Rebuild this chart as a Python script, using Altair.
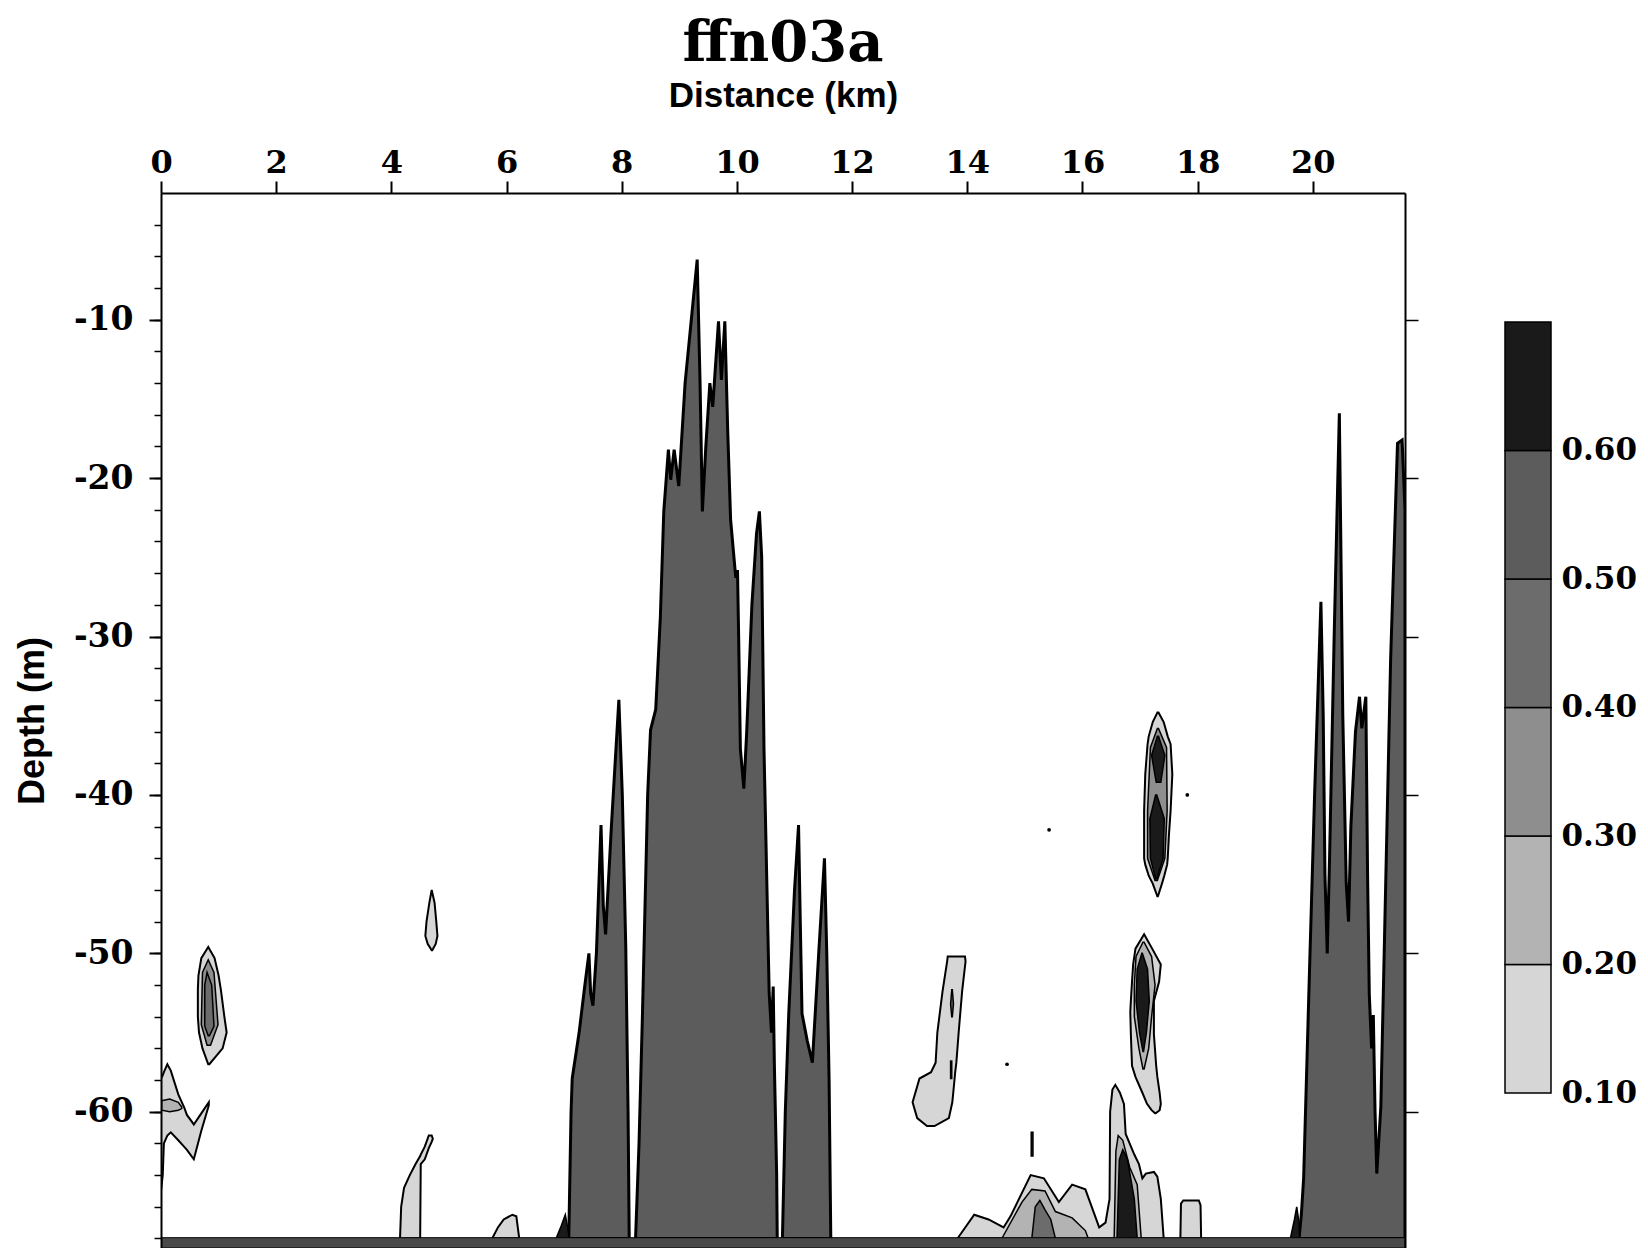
import altair as alt
import pandas as pd

# ------------------------------------------------------------------ data
X_DOMAIN = [0.0, 21.6]
Y_DOMAIN = [-68.6, -2.0]
FLOOR = -68.0

LEVELS = ["0.10", "0.20", "0.30", "0.40", "0.50", "0.60"]
LEVEL_COLORS = ["#d6d6d6", "#b3b3b3", "#8e8e8e", "#6c6c6c", "#5c5c5c", "#1a1a1a"]
CBAR_LO = [0.1, 0.2, 0.3, 0.4, 0.5, 0.6]
CBAR_HI = [0.2, 0.3, 0.4, 0.5, 0.6, 0.7]

X_TICKS = [0, 2, 4, 6, 8, 10, 12, 14, 16, 18, 20]
Y_TICKS = [-10, -20, -30, -40, -50, -60]
Y_MINOR = [-68, -66, -64, -62, -60, -58, -56, -54, -52, -50, -48, -46, -44, -42,
           -40, -38, -36, -34, -32, -30, -28, -26, -24, -22, -20, -18, -16, -14,
           -12, -10, -8, -6, -4]

# --- high-value spikes rising from the floor (distance km, upper edge depth m)
A_km = [7.08, 7.12, 7.14, 7.26, 7.36, 7.43, 7.46, 7.50, 7.56, 7.64, 7.68, 7.72,
        7.82, 7.95, 8.01, 8.07, 8.11, 8.13]
A_top = [-68.0, -60.0, -57.9, -55.0, -52.0, -50.0, -52.5, -53.3, -50.0, -41.9,
         -47.0, -48.8, -42.0, -34.0, -40.0, -49.6, -60.0, -68.0]

B_km = [8.24, 8.30, 8.36, 8.45, 8.50, 8.59, 8.67, 8.73, 8.81, 8.85, 8.91, 8.99,
        9.10, 9.20, 9.31, 9.36, 9.40, 9.46, 9.53, 9.58, 9.68, 9.73, 9.79, 9.84,
        9.89, 9.98, 10.01, 10.03, 10.06, 10.12, 10.17, 10.26, 10.34, 10.39,
        10.43, 10.47, 10.56, 10.60, 10.63, 10.65, 10.69, 10.70]
B_top = [-68.0, -62.0, -53.8, -40.0, -35.9, -34.6, -28.8, -22.1, -18.2, -20.1,
         -18.2, -20.5, -14.0, -10.3, -6.2, -14.0, -22.1, -18.0, -14.0, -15.5,
         -10.1, -13.8, -10.1, -17.0, -22.6, -26.3, -25.8, -30.0, -37.1, -39.6,
         -36.0, -28.0, -23.5, -22.1, -25.0, -37.1, -52.5, -55.0, -52.1, -57.0,
         -64.0, -68.0]

C_km = [10.79, 10.84, 10.90, 11.00, 11.07, 11.10, 11.13, 11.22, 11.31, 11.42,
        11.52, 11.56, 11.60, 11.63]
C_top = [-68.0, -60.0, -53.8, -46.0, -41.9, -48.0, -53.8, -55.5, -56.9, -50.0,
         -44.0, -50.0, -57.9, -68.0]

D_km = [19.76, 19.80, 19.84, 19.93, 20.03, 20.14, 20.18, 20.21, 20.25, 20.29,
        20.37, 20.46, 20.52, 20.58, 20.62, 20.66, 20.74, 20.81, 20.85, 20.92,
        20.95, 20.98, 21.02, 21.05, 21.08, 21.11, 21.18, 21.35, 21.47, 21.55,
        21.60]
D_top = [-68.0, -66.5, -64.2, -52.6, -40.0, -27.8, -35.0, -45.0, -50.0, -44.0,
         -30.0, -15.9, -35.0, -45.6, -48.0, -42.0, -36.0, -33.8, -35.8, -33.8,
         -45.0, -52.6, -56.0, -53.9, -60.0, -63.9, -59.7, -31.5, -17.8, -17.6,
         -22.0]

# --- low-value patches on the floor (0.10 level)
F45_km = [4.15, 4.17, 4.22, 4.32, 4.42, 4.50, 4.51, 4.58, 4.65, 4.70, 4.72]
F45_top = [-68.0, -66.0, -64.8, -64.0, -63.3, -62.8, -62.7, -62.2, -61.5, -61.5, -61.7]
F45_bot = [-68.0, -68.0, -68.0, -68.0, -68.0, -68.0, -63.3, -63.0, -62.3, -61.9, -61.7]

H6_km = [5.75, 5.85, 5.95, 6.10, 6.17, 6.22]
H6_top = [-68.0, -67.3, -66.8, -66.5, -66.6, -68.0]

Z_km = [0.00, 0.03, 0.05, 0.11, 0.17, 0.30, 0.40, 0.45, 0.57, 0.70, 0.83]
Z_top = [-57.9, -57.7, -57.5, -57.0, -57.4, -58.9, -59.7, -60.2, -60.8, -60.1, -59.4]
Z_bot = [-65.0, -64.0, -62.0, -61.5, -61.3, -61.8, -62.2, -62.4, -63.0, -61.2, -59.6]

L_km = [13.83, 14.12, 14.37, 14.63, 14.75, 15.10, 15.33, 15.59, 15.82, 16.05,
        16.29, 16.40, 16.47, 16.48, 16.52, 16.57, 16.65, 16.72, 16.75, 16.90,
        16.98, 17.04, 17.10, 17.24, 17.30, 17.36, 17.41]
L_top = [-68.0, -66.5, -66.8, -67.3, -66.6, -64.0, -64.2, -65.7, -64.6, -64.9,
         -67.3, -67.0, -65.5, -60.0, -58.6, -58.3, -58.8, -59.5, -61.4, -62.7,
         -63.3, -64.2, -63.9, -63.8, -64.1, -65.5, -68.0]

BOX_km = [17.70, 17.71, 17.75, 18.02, 18.05, 18.06]
BOX_top = [-68.0, -65.8, -65.6, -65.6, -65.9, -68.0]

# --- inner levels of the floor patches
Z2_km = [0.01, 0.15, 0.30, 0.36]
Z2_top = [-59.3, -59.2, -59.4, -59.7]
Z2_bot = [-59.9, -60.0, -59.9, -59.8]

M2_km = [14.60, 14.95, 15.12, 15.35, 15.53, 15.82, 16.05, 16.10]
M2_top = [-68.0, -65.7, -64.9, -65.0, -66.3, -66.7, -67.5, -68.0]
FG2_km = [16.55, 16.58, 16.62, 16.70, 16.82, 16.95, 17.02]
FG2_top = [-68.0, -62.5, -61.5, -61.8, -63.5, -64.6, -68.0]
M4_km = [15.12, 15.18, 15.26, 15.35, 15.45, 15.53]
M4_top = [-68.0, -66.0, -65.6, -66.2, -66.8, -68.0]
FG6_km = [16.60, 16.64, 16.70, 16.78, 16.90, 16.95]
FG6_top = [-68.0, -63.0, -62.4, -63.0, -65.5, -68.0]
T1_km = [6.86, 6.95, 7.02, 7.06, 7.09]
T1_top = [-68.0, -67.2, -66.5, -67.3, -68.0]
T2_km = [19.61, 19.68, 19.72, 19.76, 19.77]
T2_top = [-68.0, -66.8, -66.0, -67.0, -68.0]

# --- isolated patches (depth m, left km, right km)
P09_d = [-49.6, -50.3, -51.4, -52.3, -54.0, -55.0, -56.0, -57.0]
P09_l = [0.82, 0.70, 0.65, 0.64, 0.64, 0.66, 0.72, 0.82]
P09_r = [0.82, 0.93, 1.00, 1.04, 1.10, 1.14, 1.07, 0.84]
P09i_d = [-50.4, -51.2, -54.5, -55.8]
P09i_l = [0.82, 0.72, 0.70, 0.80]
P09i_r = [0.82, 0.92, 0.99, 0.86]
P09c_d = [-51.2, -52.0, -54.6, -55.2]
P09c_l = [0.80, 0.76, 0.76, 0.82]
P09c_r = [0.80, 0.88, 0.92, 0.84]

P47_d = [-46.0, -46.8, -48.0, -48.9, -49.4, -49.8]
P47_l = [4.70, 4.66, 4.61, 4.59, 4.63, 4.70]
P47_r = [4.70, 4.75, 4.78, 4.80, 4.77, 4.71]

P136_d = [-50.2, -50.5, -52.4, -55.0, -56.9, -57.5, -57.9, -59.4, -60.4, -60.9]
P136_l = [13.66, 13.65, 13.57, 13.48, 13.45, 13.37, 13.17, 13.05, 13.13, 13.30]
P136_r = [13.96, 13.97, 13.91, 13.85, 13.81, 13.79, 13.78, 13.74, 13.68, 13.43]
P136a_d = [-52.3, -53.2, -54.0]
P136a_l = [13.73, 13.71, 13.73]
P136a_r = [13.74, 13.76, 13.74]
P136b_d = [-56.8, -57.9]
P136b_l = [13.71, 13.71]
P136b_r = [13.73, 13.73]

DASH_d = [-61.3, -62.8]
DASH_l = [15.11, 15.11]
DASH_r = [15.14, 15.14]

U_d = [-34.8, -35.4, -36.3, -36.8, -38.7, -41.0, -42.6, -44.0, -44.4, -45.1, -45.6, -46.4]
U_l = [17.30, 17.22, 17.15, 17.13, 17.09, 17.07, 17.07, 17.07, 17.09, 17.15, 17.22, 17.30]
U_r = [17.32, 17.41, 17.48, 17.53, 17.56, 17.53, 17.50, 17.48, 17.47, 17.42, 17.38, 17.31]
Ui_d = [-35.8, -37.0, -41.0, -44.0, -45.4]
Ui_l = [17.30, 17.18, 17.13, 17.13, 17.26]
Ui_r = [17.32, 17.46, 17.47, 17.43, 17.30]
Uc1_d = [-36.3, -37.5, -39.2]
Uc1_l = [17.30, 17.20, 17.28]
Uc1_r = [17.32, 17.43, 17.36]
Uc2_d = [-40.0, -41.5, -44.0, -45.3]
Uc2_l = [17.27, 17.17, 17.18, 17.27]
Uc2_r = [17.29, 17.42, 17.40, 17.29]

W_d = [-48.8, -49.7, -50.7, -51.8, -53.0, -53.7, -55.1, -57.1, -57.8, -58.8, -59.5, -59.9, -60.1]
W_l = [17.07, 16.92, 16.88, 16.86, 16.84, 16.83, 16.84, 16.86, 16.92, 17.04, 17.12, 17.20, 17.26]
W_r = [17.07, 17.21, 17.36, 17.33, 17.24, 17.24, 17.24, 17.28, 17.30, 17.34, 17.36, 17.34, 17.27]
Wi_d = [-49.3, -50.2, -52.0, -54.0, -56.0, -57.3]
Wi_l = [17.05, 16.93, 16.90, 16.90, 16.98, 17.05]
Wi_r = [17.07, 17.20, 17.26, 17.20, 17.15, 17.07]
Wc_d = [-50.0, -51.0, -53.0, -55.0, -56.2]
Wc_l = [17.03, 16.95, 16.93, 16.99, 17.05]
Wc_r = [17.04, 17.13, 17.16, 17.11, 17.06]

# bottom row of the section
STRIP_km = [0.0, 21.6]
STRIP_top = [-67.95, -67.95]
STRIP_bot = [-68.6, -68.6]

SPECK_km = [17.82, 14.69, 15.42]
SPECK_d = [-40.0, -57.0, -42.2]

# ------------------------------------------------------------------ helpers
xsc = alt.Scale(domain=X_DOMAIN, nice=False, zero=False)
ysc = alt.Scale(domain=Y_DOMAIN, nice=False, zero=False)


def vdf(name, xs, tops, bots=None):
    if bots is None:
        bots = [FLOOR] * len(xs)
    return pd.DataFrame({"shape": name, "x": xs, "top": tops, "bottom": bots})


def hdf(name, ds, ls, rs):
    return pd.DataFrame({"shape": name, "y": ds, "xl": ls, "xr": rs})


def vlayer(frames, color, sw=2.0):
    df = pd.concat(frames, ignore_index=True)
    return alt.Chart(df).mark_area(
        orient="vertical", fill=color, stroke="black", strokeWidth=sw,
        strokeJoin="miter", clip=True, interpolate="linear"
    ).encode(
        x=alt.X("x:Q", scale=xsc, axis=None),
        y=alt.Y("top:Q", scale=ysc, axis=None),
        y2="bottom:Q",
        detail="shape:N",
    )


def hlayer(frames, color, sw=2.0):
    df = pd.concat(frames, ignore_index=True)
    return alt.Chart(df).mark_area(
        orient="horizontal", fill=color, stroke="black", strokeWidth=sw,
        clip=True, interpolate="linear"
    ).encode(
        y=alt.Y("y:Q", scale=ysc, axis=None),
        x=alt.X("xl:Q", scale=xsc, axis=None),
        x2="xr:Q",
        detail="shape:N",
    )


c1, c2, c3, c4, c5, c6 = LEVEL_COLORS

layers = [
    vlayer([vdf("f45", F45_km, F45_top, F45_bot), vdf("h6", H6_km, H6_top),
            vdf("z", Z_km, Z_top, Z_bot), vdf("land", L_km, L_top),
            vdf("box", BOX_km, BOX_top)], c1),
    hlayer([hdf("p09", P09_d, P09_l, P09_r), hdf("p47", P47_d, P47_l, P47_r),
            hdf("p136", P136_d, P136_l, P136_r), hdf("u", U_d, U_l, U_r),
            hdf("w", W_d, W_l, W_r)], c1),
    vlayer([vdf("z2", Z2_km, Z2_top, Z2_bot), vdf("m2", M2_km, M2_top),
            vdf("fg2", FG2_km, FG2_top)], c2, 1.5),
    hlayer([hdf("wi", Wi_d, Wi_l, Wi_r)], c2, 1.5),
    hlayer([hdf("p09i", P09i_d, P09i_l, P09i_r), hdf("ui", Ui_d, Ui_l, Ui_r)], c3, 1.5),
    vlayer([vdf("m4", M4_km, M4_top)], c4, 1.5),
    hlayer([hdf("p09c", P09c_d, P09c_l, P09c_r), hdf("p136a", P136a_d, P136a_l, P136a_r),
            hdf("p136b", P136b_d, P136b_l, P136b_r)], c4, 1.5),
    vlayer([vdf("A", A_km, A_top), vdf("B", B_km, B_top),
            vdf("C", C_km, C_top), vdf("D", D_km, D_top)], c5, 3.0),
    vlayer([vdf("fg6", FG6_km, FG6_top), vdf("t1", T1_km, T1_top),
            vdf("t2", T2_km, T2_top)], c6, 1.5),
    hlayer([hdf("uc1", Uc1_d, Uc1_l, Uc1_r), hdf("uc2", Uc2_d, Uc2_l, Uc2_r),
            hdf("wc", Wc_d, Wc_l, Wc_r), hdf("dash", DASH_d, DASH_l, DASH_r)], c6, 1.5),
    vlayer([vdf("strip", STRIP_km, STRIP_top, STRIP_bot)], "#4a4a4a", 1.0),
]

specks = alt.Chart(pd.DataFrame({"x": SPECK_km, "y": SPECK_d})).mark_point(
    filled=True, color="black", size=14, opacity=1
).encode(x=alt.X("x:Q", scale=xsc, axis=None), y=alt.Y("y:Q", scale=ysc, axis=None))
layers.append(specks)

# ------------------------------------------------------------------ axes
anchor = pd.DataFrame({"x": [10.0], "y": [-30.0]})
common = dict(domainColor="black", tickColor="black", labelColor="black",
              titleColor="black", grid=False, zindex=1)

x_axis = alt.Axis(orient="top", values=X_TICKS, tickSize=12, tickWidth=2,
                  domainWidth=2, labelPadding=2, labelFont="DejaVu Serif",
                  labelFontSize=32, labelFontWeight="bold", labelFlush=False,
                  labelOverlap=False, title="Distance (km)",
                  titleFont="Liberation Sans", titleFontSize=35,
                  titleFontWeight="bold", titlePadding=33, **common)
y_axis = alt.Axis(orient="left", values=Y_TICKS, tickSize=12, tickWidth=2,
                  domainWidth=2, labelPadding=16, labelFont="DejaVu Serif",
                  labelFontSize=33, labelFontWeight="bold",
                  labelExpr="'-' + format(abs(datum.value), 'd')",
                  title="Depth (m)", titleFont="Liberation Sans",
                  titleFontSize=36, titleFontWeight="bold", titlePadding=22,
                  **common)
y_minor = alt.Axis(orient="left", values=Y_MINOR, tickSize=7, tickWidth=1.5,
                   domain=False, labels=False, title=None, **common)
y_right = alt.Axis(orient="right", values=Y_TICKS, tickSize=13, tickWidth=1.5,
                   domainWidth=2, labels=False, title=None, **common)

layers.append(alt.Chart(anchor).mark_point(opacity=0).encode(
    x=alt.X("x:Q", scale=xsc, axis=x_axis),
    y=alt.Y("y:Q", scale=ysc, axis=y_axis)))
layers.append(alt.Chart(anchor).mark_point(opacity=0).encode(
    x=alt.X("x:Q", scale=xsc, axis=None),
    y=alt.Y("y:Q", scale=ysc, axis=y_minor)))
layers.append(alt.Chart(anchor).mark_point(opacity=0).encode(
    x=alt.X("x:Q", scale=xsc, axis=None),
    y=alt.Y("y:Q", scale=ysc, axis=y_right)))

main = alt.layer(*layers).resolve_axis(x="independent", y="independent").properties(
    width=1244, height=1055,
    title=alt.TitleParams("ffn03a", font="DejaVu Serif", fontSize=56,
                          fontWeight="bold", color="black", anchor="middle",
                          offset=5),
)

# ------------------------------------------------------------------ colour bar
cb_df = pd.DataFrame({"lo": CBAR_LO, "hi": CBAR_HI, "lvl": LEVELS, "col": "bar"})
cbar = alt.Chart(cb_df).mark_rect(stroke="black", strokeWidth=1.5).encode(
    x=alt.X("col:N", scale=alt.Scale(paddingInner=0, paddingOuter=0), axis=None),
    y=alt.Y("lo:Q", scale=alt.Scale(domain=[-0.0206, 0.8004], nice=False, zero=False),
            axis=alt.Axis(orient="right", values=CBAR_LO, format=".2f",
                          ticks=False, domain=False, grid=False, labelPadding=10,
                          labelFont="DejaVu Serif", labelFontSize=31,
                          labelFontWeight="bold", labelColor="black", title=None)),
    y2="hi:Q",
    fill=alt.Fill("lvl:N", scale=alt.Scale(domain=LEVELS, range=LEVEL_COLORS), legend=None),
).properties(width=46, height=1055)

chart = alt.hconcat(main, cbar, spacing=85).properties(
    background="white",
    padding={"left": 6, "top": 8, "right": 0, "bottom": 0},
).configure_view(stroke=None)

chart.save("out.html", embed_options={"renderer": "svg", "actions": False})
